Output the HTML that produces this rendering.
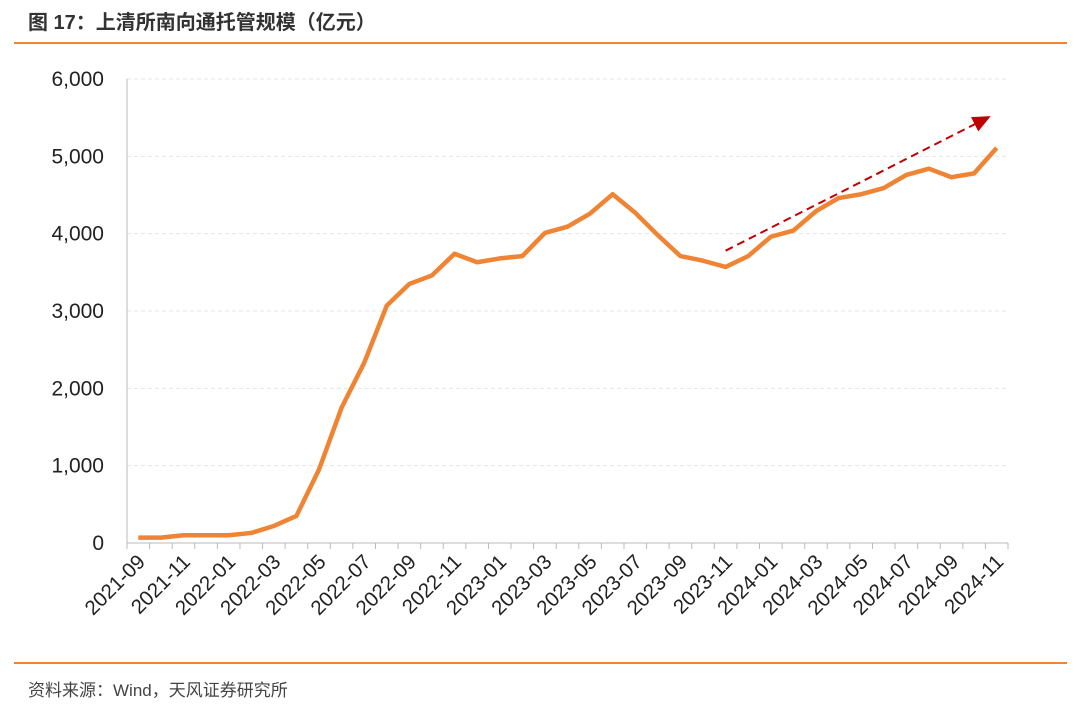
<!DOCTYPE html>
<html><head><meta charset="utf-8"><style>
body{margin:0;background:#fff;width:1080px;height:710px;overflow:hidden;font-family:"Liberation Sans","Noto Sans CJK SC",sans-serif;}
.t{position:absolute;left:28px;top:6px;font-size:20px;color:#333;font-weight:bold;}
.s{position:absolute;left:28px;top:676px;font-size:17px;color:#444;}
.l{position:absolute;left:14px;width:1053px;height:2px;background:#ef8434;}
</style></head><body>
<div class="t">图 17：上清所南向通托管规模（亿元）</div>
<div class="l" style="top:42px"></div>
<div class="l" style="top:662px"></div>
<div class="s">资料来源：Wind，天风证券研究所</div>
<svg id="c" width="1080" height="710" style="position:absolute;left:0;top:0"></svg>
<script>
const categories=["2021-09","2021-10","2021-11","2021-12","2022-01","2022-02","2022-03","2022-04","2022-05","2022-06","2022-07","2022-08","2022-09","2022-10","2022-11","2022-12","2023-01","2023-02","2023-03","2023-04","2023-05","2023-06","2023-07","2023-08","2023-09","2023-10","2023-11","2023-12","2024-01","2024-02","2024-03","2024-04","2024-05","2024-06","2024-07","2024-08","2024-09","2024-10","2024-11"];
const values=[70,70,100,100,100,130,220,350,950,1750,2330,3070,3350,3460,3740,3630,3680,3710,4010,4090,4260,4510,4270,3980,3710,3650,3570,3710,3960,4040,4290,4460,4510,4590,4760,4840,4730,4780,5110];
const yTicks=[0,1000,2000,3000,4000,5000,6000];
const yTickLabels=["0","1,000","2,000","3,000","4,000","5,000","6,000"];
const trendStart=["2023-11",3780];
const trendEnd=["2024-11",5520];
const NS="http://www.w3.org/2000/svg",svg=document.getElementById('c');
const X0=127,X1=1008,Y0=543,Y1=79,step=(X1-X0)/categories.length;
const x=i=>X0+step*(i+0.5), y=v=>Y0-(Y0-Y1)*v/6000;
function mk(t,a,p){const e=document.createElementNS(NS,t);for(const k in a)e.setAttribute(k,a[k]);(p||svg).appendChild(e);return e;}
yTicks.forEach((v,i)=>{
 if(v>0){const g=mk('line',{x1:X0,x2:X1,y1:y(v),y2:y(v),stroke:'#e6e6e6','stroke-dasharray':'4,3'});
 
 }
 const t=mk('text',{x:104,y:y(v)+7,'text-anchor':'end','font-size':21,fill:'#222'});t.textContent=yTickLabels[i];
 
 
});
const ax=mk('line',{x1:X0,x2:X0,y1:Y1,y2:Y0,stroke:'#bbb'});


const bx=mk('line',{x1:X0,x2:X1,y1:Y0,y2:Y0,stroke:'#bbb'});


for(let i=0;i<=categories.length;i++){mk('line',{x1:X0+step*i,x2:X0+step*i,y1:Y0,y2:Y0+6,stroke:'#bbb'});}
categories.forEach((c,i)=>{if(i%2)return;const px=x(i)+8,py=Y0+20;
 const t=mk('text',{x:px,y:py,'text-anchor':'end','font-size':20.5,fill:'#222',transform:`rotate(-45 ${px} ${py})`});t.textContent=c;
 
 });
const p=mk('polyline',{points:values.map((v,i)=>x(i)+','+y(v)).join(' '),fill:'none',stroke:'#ef8434','stroke-width':4.5,'stroke-linejoin':'round'});


const sx=x(categories.indexOf(trendStart[0])),sy=y(trendStart[1]),ex=x(categories.indexOf(trendEnd[0]))-6,ey=y(trendEnd[1]);
const tl=mk('line',{x1:sx,y1:sy,x2:ex,y2:ey,stroke:'#c00000','stroke-width':2,'stroke-dasharray':'8,5'});


const ang=Math.atan2(ey-sy,ex-sx),L=18,W=8;
const bx2=ex-L*Math.cos(ang),by2=ey-L*Math.sin(ang);
const ah=mk('polygon',{points:`${ex},${ey} ${bx2+W*Math.sin(ang)},${by2-W*Math.cos(ang)} ${bx2-W*Math.sin(ang)},${by2+W*Math.cos(ang)}`,fill:'#c00000'});


</script>
</body></html>
